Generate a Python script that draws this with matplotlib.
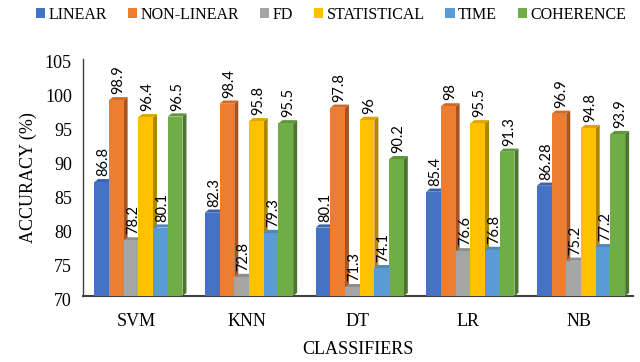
import matplotlib
matplotlib.use("Agg")
import matplotlib.pyplot as plt
from matplotlib.patches import Polygon, Patch
from matplotlib.transforms import ScaledTranslation
import numpy as np

classifiers = ["SVM", "KNN", "DT", "LR", "NB"]
features = ["LINEAR", "NON-LINEAR", "FD", "STATISTICAL", "TIME", "COHERENCE"]

linear = [86.8, 82.3, 80.1, 85.4, 86.28]
non_linear = [98.9, 98.4, 97.8, 98, 96.9]
fd = [78.2, 72.8, 71.3, 76.6, 75.2]
statistical = [96.4, 95.8, 96, 95.5, 94.8]
time_feat = [80.1, 79.3, 74.1, 76.8, 77.2]
coherence = [96.5, 95.5, 90.2, 91.3, 93.9]

series = [linear, non_linear, fd, statistical, time_feat, coherence]
labels = [["86.8", "82.3", "80.1", "85.4", "86.28"]] + [[f"{v:g}" for v in s] for s in series[1:]]

front = ["#4472C4", "#ED7D31", "#A5A5A5", "#FFC000", "#5B9BD5", "#70AD47"]
top = ["#3B63AC", "#CF6A28", "#8E8E8E", "#DDA600", "#4F88BD", "#5F963B"]
side = ["#2F5597", "#A8541E", "#7A7A7A", "#B08500", "#3E6D99", "#4B7630"]

y0 = 70
fig = plt.figure(figsize=(6.4, 3.62), dpi=100)
ax = fig.add_axes([83 / 640, 1 - 296 / 362, 550 / 640, 237 / 362])
ax.set_xlim(-0.50, 4.47)
ax.set_ylim(70, 105)

# depth of the pseudo-3D faces, converted from pixels to data units
px_x = 550 / (4.47 + 0.50)
px_y = 237 / 35
dx = 4.0 / px_x
dy = 3.2 / px_y

w = 0.133
n = len(series)
x = np.arange(len(classifiers))
z = 2
for j, vals in enumerate(series):
    offs = (j - (n - 1) / 2) * w
    for i, v in enumerate(vals):
        xl = x[i] + offs - w / 2
        xr = xl + w
        ax.add_patch(Polygon([(xr, y0), (xr + dx, y0 + dy), (xr + dx, v + dy), (xr, v)],
                             closed=True, facecolor=side[j], edgecolor="none", zorder=z + j * 3))
        ax.add_patch(Polygon([(xl, v), (xl + dx, v + dy), (xr + dx, v + dy), (xr, v)],
                             closed=True, facecolor=top[j], edgecolor="none", zorder=z + j * 3 + 1))
        ax.bar(xl, v - y0, bottom=y0, width=w, align="edge", color=front[j],
               edgecolor="none", zorder=z + j * 3 + 2)
        ax.annotate(labels[j][i], (xl + (w + dx) / 2, v + dy), xytext=(0, 2),
                    textcoords="offset points", rotation=90, ha="center", va="bottom",
                    fontsize=10.5, family="Lato", zorder=50)

ax.set_xticks(x - 0.02)
ax.set_xticklabels(classifiers)
ax.set_yticks(np.arange(70, 106, 5))
ax.tick_params(length=0, labelsize=13, pad=8)
ax.tick_params(axis="x", pad=12)
shift = ScaledTranslation(0, -3 / 100, fig.dpi_scale_trans)
for lab in ax.get_xticklabels() + ax.get_yticklabels():
    lab.set_family("Liberation Serif")
for lab in ax.get_yticklabels():
    lab.set_transform(lab.get_transform() + shift)

for s in ["top", "right"]:
    ax.spines[s].set_visible(False)
ax.spines["left"].set_color("#404040")
ax.spines["bottom"].set_color("#404040")
ax.spines["left"].set_linewidth(1.0)
ax.spines["bottom"].set_linewidth(1.5)

ax.set_xlabel("CLASSIFIERS", family="Liberation Serif", fontsize=13, labelpad=8)
ax.set_ylabel("ACCURACY (%)", family="Liberation Serif", fontsize=13, labelpad=6)

handles = [Patch(facecolor=c, edgecolor="none") for c in front]
fig.legend(handles, features, loc="center", bbox_to_anchor=(331 / 640, 1 - 15 / 362), ncol=6,
           frameon=False, prop={"family": "Liberation Serif", "size": 11.5},
           handlelength=0.6, handleheight=0.6, handletextpad=0.2, columnspacing=1.3)

fig.savefig("out.png", dpi=100)
